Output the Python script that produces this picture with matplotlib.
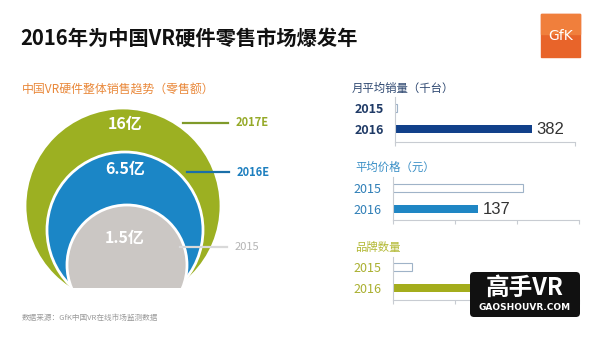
import matplotlib

matplotlib.use("Agg")
import matplotlib.pyplot as plt
from matplotlib.patches import Circle, Rectangle, FancyBboxPatch

plt.rcParams["font.family"] = ["Noto Sans CJK SC", "DejaVu Sans"]

# 数据
ring_years = ["2017E", "2016E", "2015"]
ring_labels = ["16亿", "6.5亿", "1.5亿"]
ring_values = [16, 6.5, 1.5]

bar_years = ["2015", "2016"]
monthly_sales = [6, 382]      # 千台
avg_price = [210, 137]        # 元
brand_count = [3, 16]

# 样式 (像素坐标)
ring_colors = ["#9cb022", "#1b86c6", "#cbc7c4"]
ring_text_colors = ["#95a928", "#1d7fbf", "#b4b4b4"]
ring_centers = [(123, 206), (125, 230), (127, 265)]
ring_radii = [98, 78, 60]
label_y = [124, 169, 238]
leader = [(183, 228, 123), (187, 229, 172), (180, 227, 247)]

W, H = 600, 337
fig = plt.figure(figsize=(6.0, 3.37), dpi=100)
ax = fig.add_axes([0, 0, 1, 1])
ax.set_xlim(0, W)
ax.set_ylim(H, 0)
ax.axis("off")

ax.text(20, 38, "2016年为中国VR硬件零售市场爆发年", fontsize=14.6, fontweight="bold",
        color="#111111", va="center", ha="left")

# GfK 标志
ax.add_patch(Rectangle((541, 14), 39, 43, color="#e8642a", zorder=2))
ax.add_patch(Rectangle((541, 14), 39, 20, color="#f07f3c", zorder=2))
ax.text(560.5, 36, "GfK", color="white", fontsize=10, ha="center", va="center",
        family=["DejaVu Sans"], zorder=3)

ax.text(22, 90, "中国VR硬件整体销售趋势（零售额）", fontsize=8.6, color="#e9883a",
        va="center", ha="left")

clip = Rectangle((0, 0), W, 288, transform=ax.transData)
for (cx, cy), r, c in zip(ring_centers, ring_radii, ring_colors):
    circ = Circle((cx, cy), r, facecolor=c, edgecolor="white", linewidth=2, zorder=2)
    ax.add_patch(circ)
    circ.set_clip_path(clip)

for lbl, ly in zip(ring_labels, label_y):
    ax.text(125, ly, lbl, color="white", fontsize=11.5, fontweight="bold",
            ha="center", va="center", zorder=4)

for (x0, x1, y), yr, tc, lc in zip(leader, ring_years, ring_text_colors,
                                   ["#7f9a2a", "#1a6fa8", "#d9d9d9"]):
    ax.plot([x0, x1], [y, y], color=lc, lw=1.6, zorder=3)
    ax.text(x1 + 8, y, yr, color=tc, fontsize=8, fontweight="bold" if yr != "2015" else "normal",
            ha="left", va="center", zorder=3)

ax.text(22, 318, "数据来源：GfK中国VR在线市场监测数据", fontsize=5.5, color="#9a9a9a",
        va="center", ha="left")


def bar_panel(left, right, top, bottom, y15, y16, values, xmax, ticks, title, title_xy,
              title_color, fill, label_color, label_bold, show_value):
    ax_b = fig.add_axes([left / W, 1 - bottom / H, (right - left) / W, (bottom - top) / H])
    step = y16 - y15
    ax_b.set_ylim(1 + (bottom - y16) / step, -(y15 - top) / step)
    ax_b.set_xlim(0, xmax)
    h = 8 / step
    ax_b.barh([0], [values[0]], height=h, color="white", edgecolor="#9fb3c8", linewidth=0.8)
    ax_b.barh([1], [values[1]], height=h, color=fill, edgecolor="none")
    if show_value:
        ax_b.text(values[1] + xmax * 0.025, 1, str(values[1]), fontsize=12, color="#333333",
                  va="center", ha="left", family=["Liberation Sans"])
    ax_b.set_yticks([0, 1])
    ax_b.set_yticklabels(bar_years, fontsize=9, color=label_color,
                         fontweight="bold" if label_bold else "normal")
    ax_b.set_xticks(ticks)
    ax_b.set_xticklabels([])
    for s in ["top", "right"]:
        ax_b.spines[s].set_visible(False)
    for s in ["left", "bottom"]:
        ax_b.spines[s].set_color("#c8ccd2")
        ax_b.spines[s].set_linewidth(0.8)
    ax_b.tick_params(axis="x", length=3, color="#c8ccd2", width=0.8)
    ax_b.tick_params(axis="y", length=0, pad=8)
    ax_b.patch.set_alpha(0)
    ax.text(title_xy[0], title_xy[1], title, fontsize=8.2, color=title_color, va="center", ha="left")


bar_panel(395, 575, 97, 142, 108, 129, monthly_sales, 502, [0, 502], "月平均销量（千台）",
          (352, 88), "#2d4770", "#11408a", "#1f3a66", True, True)
bar_panel(393, 579, 177, 220, 188, 209, avg_price, 300, [0, 100, 200, 300], "平均价格（元）",
          (355, 167), "#3a8fc6", "#1f86c4", "#2f7fb7", False, True)
bar_panel(393, 579, 257, 300, 267, 288, brand_count, 30, [0, 10, 20, 30], "品牌数量",
          (355, 247), "#b3b935", "#a4ad1c", "#aab030", False, False)

# 水印
ov = fig.add_axes([0, 0, 1, 1])
ov.set_xlim(0, W)
ov.set_ylim(H, 0)
ov.axis("off")
ov.add_patch(FancyBboxPatch((472, 274), 106, 41, boxstyle="round,pad=2,rounding_size=4",
                            facecolor="#111111", edgecolor="none"))
ov.text(525, 288, "高手VR", color="white", fontsize=17, fontweight="bold", ha="center",
        va="center")
ov.text(525, 308, "GAOSHOUVR.COM", color="white", fontsize=6.5, fontweight="bold",
        ha="center", va="center", family=["DejaVu Sans"])

fig.savefig("out.png", dpi=100)
